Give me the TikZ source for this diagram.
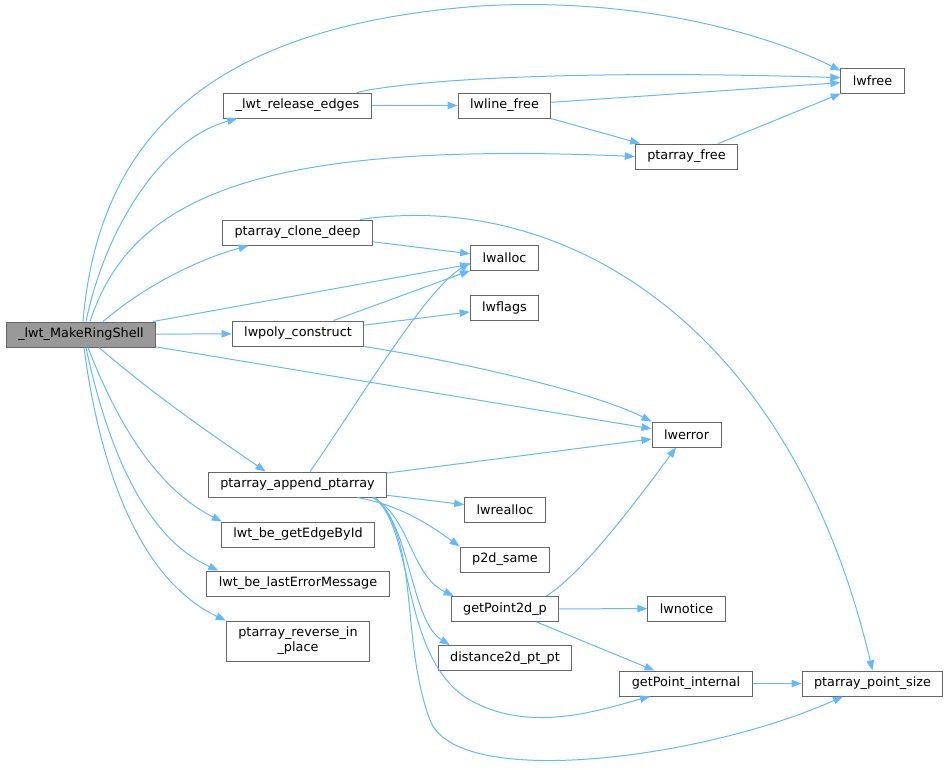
\documentclass[tikz,border=0pt]{standalone}
\usepackage{fontspec}
\setmainfont{DejaVu Sans}
\usetikzlibrary{arrows.meta,calc}
\definecolor{edgeblue}{HTML}{63B8FF}
\definecolor{boxgray}{HTML}{666666}
\definecolor{rootgray}{HTML}{999999}
\tikzset{every picture/.style={line width=0.75pt}}

\begin{document}
\begin{tikzpicture}[x=0.75pt, y=-0.75pt, >={Triangle[length=7.5pt,width=5.6pt]},
    fn/.style={draw=boxgray, fill=white, inner xsep=9pt, inner ysep=0pt, minimum height=18.75pt,
               font=\fontsize{9.6}{11.25}\selectfont, align=center},
    fnroot/.style={fn, fill=rootgray},
    call/.style={->, draw=edgeblue}]
    \useasboundingbox (0,0) rectangle (949,769);
    % functions, by column
    \node[fnroot] (mrs) at (81,334.5) {\_lwt\_MakeRingShell};
    \node[fn] (rel)      at (297.5,105.5) {\_lwt\_release\_edges};
    \node[fn] (clone)    at (297.5,232.5) {ptarray\_clone\_deep};
    \node[fn] (polycons) at (298,333.5)   {lwpoly\_construct};
    \node[fn] (append)   at (297.5,484.5) {ptarray\_append\_ptarray};
    \node[fn] (edgebyid) at (298,534.5)   {lwt\_be\_getEdgeById};
    \node[fn] (lasterr)  at (298,583.5)   {lwt\_be\_lastErrorMessage};
    \node[fn, minimum height=30pt] (reverse) at (298,641) {ptarray\_reverse\_in\\\_place};
    \node[fn] (linefree) at (504.5,105.5) {lwline\_free};
    \node[fn] (lwalloc)  at (504.5,258)   {lwalloc};
    \node[fn] (lwflags)  at (504.5,307.5) {lwflags};
    \node[fn] (lwrealloc) at (505,509.5)  {lwrealloc};
    \node[fn] (p2dsame)  at (505,559.5)   {p2d\_same};
    \node[fn] (gp2d)     at (505,609)     {getPoint2d\_p};
    \node[fn] (dist)     at (505,658)     {distance2d\_pt\_pt};
    \node[fn] (ptafree)  at (686.5,156.5) {ptarray\_free};
    \node[fn] (lwerror)  at (686.5,434.5) {lwerror};
    \node[fn] (lwnotice) at (686.5,608.5) {lwnotice};
    \node[fn] (gpint)    at (686,683.5)   {getPoint\_internal};
    \node[fn] (lwfree)   at (872.5,80.5)  {lwfree};
    \node[fn] (ptsize)   at (872.5,683.5) {ptarray\_point\_size};
    % calls from the root
    \draw[call] ($(mrs.north)+(2,0)$) .. controls (100,120) and (230,25) .. (480,6)
                .. controls (650,-4) and (780,40) .. (lwfree.163);
    \draw[call] ($(mrs.north)+(5,0)$) .. controls (105,230) and (160,140) .. ($(rel.south west)+(14,0)$);
    \draw[call] ($(mrs.north)+(9,0)$) .. controls (130,200) and (250,140) .. (ptafree.west);
    \draw[call] ($(mrs.north)+(22,0)$) .. controls (140,290) and (190,262) .. ($(clone.south)+(-49,0)$);
    \draw[call] (mrs) -- (lwalloc);
    \draw[call] (mrs) -- (polycons);
    \draw[call] (mrs) -- (lwerror);
    \draw[call] ($(mrs.south)+(18,0)$) .. controls (160,400) and (220,440) .. ($(append.north)+(-32,0)$);
    \draw[call] ($(mrs.south)+(7,0)$) .. controls (120,430) and (160,490) .. ($(edgebyid.north west)+(1,0)$);
    \draw[call] ($(mrs.south)+(5,0)$) .. controls (110,460) and (150,540) .. ($(lasterr.north west)+(12,0)$);
    \draw[call] ($(mrs.south)+(3,0)$) .. controls (100,470) and (140,580) .. (reverse.north west);
    % second level
    \draw[call] ($(rel.north east)+(-15,0)$) .. controls (420,78) and (600,70) .. (lwfree.175);
    \draw[call] (rel) -- (linefree);
    \draw[call] (linefree) -- (lwfree);
    \draw[call] (linefree) -- (ptafree);
    \draw[call] (ptafree) -- (lwfree);
    \draw[call] (clone) -- (lwalloc);
    \draw[call] ($(clone.north east)+(-13,0)$) .. controls (560,190) and (790,320) .. (ptsize.north);
    \draw[call] (polycons) -- (lwalloc);
    \draw[call] (polycons) -- (lwflags);
    \draw[call] (polycons.south east) .. controls (480,365) and (600,395) .. (lwerror.north west);
    \draw[call] ($(append.north)+(12.5,0)$) .. controls (360,400) and (425,290) .. (lwalloc.-172);
    \draw[call] (append) -- (lwerror);
    \draw[call] (append) -- (lwrealloc);
    \draw[call] ($(append.south east)+(-30,0)$) .. controls (400,505) and (430,525) .. (p2dsame.north west);
    \draw[call] ($(append.south east)+(-15,0)$) .. controls (410,515) and (410,575) .. ($(gp2d.north west)+(3,0)$);
    \draw[call] ($(append.south east)+(-14,0)$) .. controls (410,520) and (410,620) .. ($(dist.north west)+(12,0)$);
    \draw[call] ($(append.south east)+(-13,0)$) .. controls (415,530) and (400,660) .. (470,700)
                .. controls (530,734) and (600,710) .. ($(gpint.south)+(-36,0)$);
    \draw[call] ($(append.south east)+(-12,0)$) .. controls (420,540) and (400,640) .. (430,720)
                .. controls (456,790) and (700,760) .. ($(ptsize.south)+(-29.5,0)$);
    \draw[call] ($(gp2d.north east)+(-13,0)$) .. controls (580,575) and (630,510) .. ($(lwerror.south)+(-10.5,0)$);
    \draw[call] (gp2d) -- (lwnotice);
    \draw[call] (gp2d) -- (gpint);
    \draw[call] (gpint) -- (ptsize);
\end{tikzpicture}
\end{document}
